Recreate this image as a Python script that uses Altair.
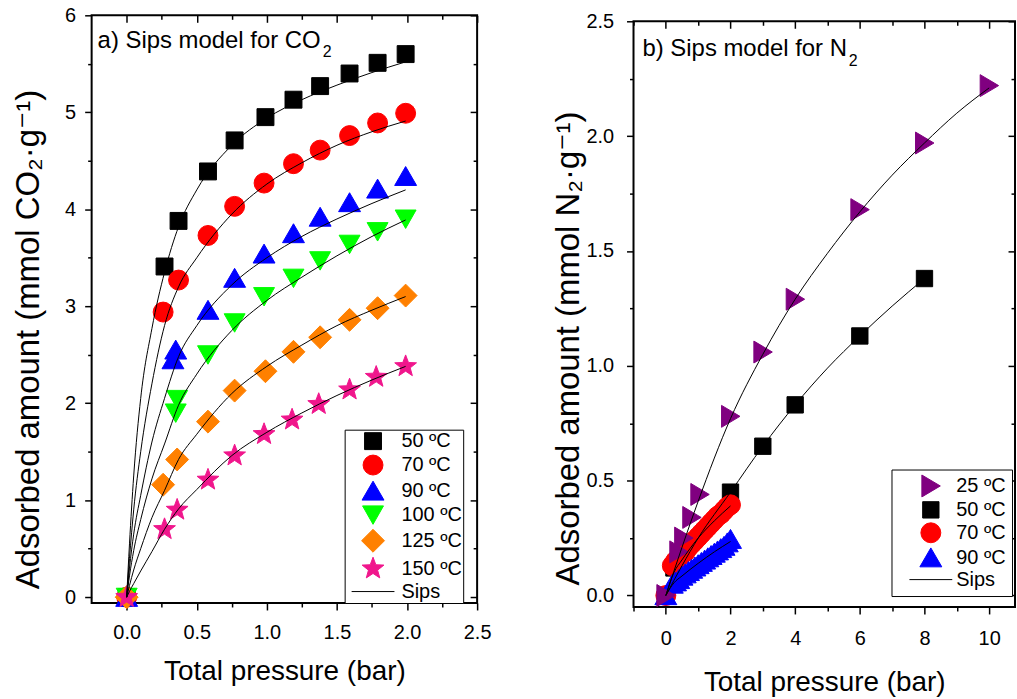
import altair as alt
import pandas as pd

FONT = "Liberation Sans, Arial, DejaVu Sans"

# marker outlines (unit paths, scaled by the mark size)
SQUARE_A = "M-0.85,-0.85L0.85,-0.85L0.85,0.85L-0.85,0.85Z"
TRI_UP_A = "M0,-0.98L1.1,0.92L-1.1,0.92Z"
TRI_DN_A = "M0,0.95L1.05,-0.9L-1.05,-0.9Z"
DIAMOND_A = "M0,-1.15L1.15,0L0,1.15L-1.15,0Z"
STAR_A = ("M0,-1.15L0.284,-0.391L1.094,-0.355L0.459,0.15L0.676,0.93L0,0.483"
          "L-0.676,0.93L-0.459,0.15L-1.094,-0.355L-0.284,-0.391Z")
SIPS_LINE = "M-2.15,0L2.15,0"
SQUARE_B = "M-0.82,-0.82L0.82,-0.82L0.82,0.82L-0.82,0.82Z"
TRI_RT_B = "M0.95,0L-0.9,-1.1L-0.9,1.1Z"
TRI_UP_B = "M0,-0.98L1.1,0.92L-1.1,0.92Z"

# ---------------- Panel a: CO2 ----------------
co2_series = ["50 ºC", "70 ºC", "90 ºC", "100 ºC", "125 ºC", "150 ºC"]
co2_colors = ["#000000", "#ff0000", "#0000ff", "#00ff00", "#ff8000", "#f0168c"]
co2_shapes = [SQUARE_A, "circle", TRI_UP_A, TRI_DN_A, DIAMOND_A, STAR_A]

p_co2_50 = [0, 0.27, 0.37, 0.58, 0.77, 0.99, 1.19, 1.38, 1.59, 1.79, 1.99]
q_co2_50 = [0, 3.41, 3.88, 4.39, 4.71, 4.95, 5.13, 5.27, 5.40, 5.51, 5.60]
p_co2_70 = [0, 0.26, 0.37, 0.58, 0.77, 0.98, 1.19, 1.38, 1.59, 1.79, 1.99]
q_co2_70 = [0, 2.94, 3.27, 3.73, 4.03, 4.27, 4.47, 4.61, 4.76, 4.89, 4.99]
p_co2_90 = [0, 0.33, 0.35, 0.58, 0.77, 0.98, 1.19, 1.38, 1.59, 1.79, 1.99]
q_co2_90 = [0, 2.45, 2.55, 2.96, 3.29, 3.54, 3.75, 3.92, 4.07, 4.21, 4.34]
p_co2_100 = [0, 0.35, 0.36, 0.58, 0.77, 0.98, 1.19, 1.38, 1.59, 1.79, 1.99]
q_co2_100 = [0, 1.90, 2.04, 2.50, 2.83, 3.10, 3.29, 3.47, 3.64, 3.77, 3.90]
p_co2_125 = [0, 0.26, 0.36, 0.58, 0.77, 0.99, 1.19, 1.38, 1.59, 1.79, 1.99]
q_co2_125 = [0, 1.16, 1.42, 1.81, 2.13, 2.33, 2.53, 2.68, 2.86, 2.98, 3.11]
p_co2_150 = [0, 0.27, 0.36, 0.58, 0.77, 0.98, 1.18, 1.37, 1.59, 1.78, 1.99]
q_co2_150 = [0, 0.70, 0.90, 1.21, 1.46, 1.68, 1.83, 1.99, 2.14, 2.27, 2.38]

# Sips fit curves
p_fit_co2 = [0, 0.02, 0.05, 0.1, 0.18, 0.27, 0.37, 0.5, 0.75, 1.0, 1.25, 1.5, 1.75, 1.99]
q_fit_co2_50 = [0, 0.55, 1.25, 2.05, 2.77, 3.35, 3.82, 4.20, 4.66, 4.94, 5.13, 5.28, 5.41, 5.52]
q_fit_co2_70 = [0, 0.40, 0.90, 1.50, 2.20, 2.80, 3.20, 3.50, 3.95, 4.26, 4.48, 4.66, 4.80, 4.91]
q_fit_co2_90 = [0, 0.30, 0.65, 1.05, 1.60, 2.05, 2.48, 2.80, 3.22, 3.50, 3.72, 3.90, 4.06, 4.20]
q_fit_co2_100 = [0, 0.22, 0.48, 0.80, 1.22, 1.58, 1.98, 2.30, 2.75, 3.06, 3.30, 3.52, 3.72, 3.89]
q_fit_co2_125 = [0, 0.12, 0.28, 0.50, 0.82, 1.10, 1.42, 1.68, 2.10, 2.38, 2.60, 2.80, 2.96, 3.10]
q_fit_co2_150 = [0, 0.06, 0.14, 0.27, 0.47, 0.70, 0.91, 1.11, 1.46, 1.70, 1.90, 2.08, 2.24, 2.38]

# ---------------- Panel b: N2 ----------------
n2_series = ["25 ºC", "50 ºC", "70 ºC", "90 ºC"]
n2_colors = ["#800080", "#000000", "#ff0000", "#0000ff"]
n2_shapes = [TRI_RT_B, SQUARE_B, "circle", TRI_UP_B]

p_n2_25 = [0, 0.4, 0.55, 0.8, 1.05, 2.0, 3.0, 4.0, 6.0, 8.0, 10.0]
q_n2_25 = [0, 0.19, 0.25, 0.34, 0.44, 0.78, 1.06, 1.29, 1.68, 1.97, 2.22]
p_n2_50 = [0, 0.25, 2.0, 3.0, 4.0, 6.0, 8.0]
q_n2_50 = [0, 0.12, 0.45, 0.65, 0.83, 1.13, 1.38]
p_n2_70 = [0, 0.2, 0.3, 0.4, 0.5, 0.6, 0.7, 0.8, 0.9, 1.0, 1.1, 1.2, 1.3, 1.4, 1.5, 1.6, 1.7, 1.8, 1.9, 2.0]
q_n2_70 = [0, 0.13, 0.15, 0.165, 0.18, 0.19, 0.21, 0.225, 0.24, 0.255, 0.27, 0.285, 0.30, 0.315, 0.33, 0.345, 0.355, 0.37, 0.385, 0.395]
p_n2_90 = [0, 0.2, 0.3, 0.4, 0.5, 0.6, 0.7, 0.8, 0.9, 1.0, 1.1, 1.2, 1.3, 1.4, 1.5, 1.6, 1.7, 1.8, 1.9, 2.0]
q_n2_90 = [0, 0.05, 0.06, 0.07, 0.085, 0.095, 0.105, 0.115, 0.125, 0.135, 0.145, 0.155, 0.165, 0.175, 0.185, 0.195, 0.205, 0.215, 0.23, 0.245]

p_fit_n2_25 = [0, 0.5, 1, 2, 3, 4, 5, 6, 7, 8, 9, 10]
q_fit_n2_25 = [0, 0.21, 0.41, 0.77, 1.05, 1.29, 1.49, 1.67, 1.83, 1.97, 2.10, 2.21]
p_fit_n2_50 = [0, 0.5, 1, 2, 3, 4, 5, 6, 7, 8]
q_fit_n2_50 = [0, 0.13, 0.25, 0.45, 0.65, 0.83, 0.99, 1.13, 1.26, 1.38]
p_fit_n2_70 = [0, 0.25, 0.5, 1.0, 1.5, 2.0]
q_fit_n2_70 = [0, 0.10, 0.155, 0.25, 0.325, 0.39]
p_fit_n2_90 = [0, 0.25, 0.5, 1.0, 1.5, 2.0]
q_fit_n2_90 = [0, 0.055, 0.085, 0.14, 0.19, 0.235]


def long_table(names, ps, qs):
    rows = []
    for name, p, q in zip(names, ps, qs):
        for pi, qi in zip(p, q):
            rows.append({"series": name, "P": pi, "q": qi})
    return pd.DataFrame(rows)


df_a_pts = long_table(co2_series,
                      [p_co2_50, p_co2_70, p_co2_90, p_co2_100, p_co2_125, p_co2_150],
                      [q_co2_50, q_co2_70, q_co2_90, q_co2_100, q_co2_125, q_co2_150])
df_a_fit = long_table(co2_series, [p_fit_co2] * 6,
                      [q_fit_co2_50, q_fit_co2_70, q_fit_co2_90, q_fit_co2_100, q_fit_co2_125, q_fit_co2_150])
# drawing order: 50 first, 25 (purple) last
order_b = [1, 2, 3, 0]
pb = [p_n2_25, p_n2_50, p_n2_70, p_n2_90]
qb = [q_n2_25, q_n2_50, q_n2_70, q_n2_90]
df_b_pts = long_table([n2_series[i] for i in order_b], [pb[i] for i in order_b], [qb[i] for i in order_b])
df_b_fit = long_table(n2_series, [p_fit_n2_25, p_fit_n2_50, p_fit_n2_70, p_fit_n2_90],
                      [q_fit_n2_25, q_fit_n2_50, q_fit_n2_70, q_fit_n2_90])

AXIS_STYLE = dict(labelFont=FONT, labelFontSize=20, labelColor="black", titleFont=FONT,
                  titleFontWeight="normal", titleColor="black",
                  tickColor="black", tickWidth=1.5, domain=False, grid=False,
                  labelOverlap=False, labelFlush=False, labelBound=False)


def major_axis(values, test, fmt, title, orient, label_pad, title_pad, title_size, **kw):
    return alt.Axis(values=values, orient=orient, title=title,
                    labelExpr=f"({test}) ? format(datum.value, '{fmt}') : ''",
                    tickSize={"condition": {"test": test, "value": 7}, "value": 4},
                    labelPadding=label_pad, titlePadding=title_pad, titleFontSize=title_size,
                    **AXIS_STYLE, **kw)


def mirror_axis(values, test, orient, offset):
    return alt.Axis(values=values, orient=orient, title=None, labels=False, offset=offset,
                    tickSize={"condition": {"test": test, "value": 7}, "value": 4},
                    tickColor="black", tickWidth=1.5, domain=False, grid=False)


def legend(x, y, pad, row_pad, sym_off, lab_off):
    return alt.Legend(title=None, orient="none", legendX=x, legendY=y, strokeColor="black",
                      fillColor="white", padding=pad, labelFont=FONT, labelFontSize=20,
                      labelColor="black", labelOffset=lab_off, symbolOffset=sym_off,
                      rowPadding=row_pad, symbolStrokeWidth=1, symbolSize=400, cornerRadius=0)


def panel(df_pts, df_fit, series, colors, shapes, xdom, ydom, xvals, yvals,
          xtest, ytest, xfmt, yfmt, ytitle, W, H, leg, label, txt_xy, sub_xy,
          xlab_pad, xtitle_pad, ylab_pad, ytitle_pad, ytitle_y):
    dom = series + ["Sips"]
    xs = alt.Scale(domain=xdom, nice=False, zero=False)
    ys = alt.Scale(domain=ydom, nice=False, zero=False)
    pts = alt.Chart(df_pts).mark_point(filled=True, opacity=1, strokeWidth=1, size=400).encode(
        x=alt.X("P:Q", scale=xs, axis=major_axis(xvals, xtest, xfmt, "Total pressure (bar)",
                                                 "bottom", xlab_pad, xtitle_pad, 28)),
        y=alt.Y("q:Q", scale=ys, axis=major_axis(yvals, ytest, yfmt, ytitle, "left",
                                                 ylab_pad, ytitle_pad, 33, titleY=ytitle_y)),
        fill=alt.Fill("series:N", scale=alt.Scale(domain=dom, range=colors + ["#000000"]), legend=leg),
        stroke=alt.Stroke("series:N", scale=alt.Scale(domain=dom, range=colors + ["#000000"]), legend=leg),
        shape=alt.Shape("series:N", scale=alt.Scale(domain=dom, range=shapes + [SIPS_LINE]), legend=leg),
    )
    fits = alt.Chart(df_fit).mark_line(color="black", strokeWidth=1, interpolate="monotone").encode(
        x=alt.X("P:Q", scale=xs, axis=mirror_axis(xvals, xtest, "bottom", -H)),
        y=alt.Y("q:Q", scale=ys, axis=mirror_axis(yvals, ytest, "left", -W)),
        detail="series:N",
    )
    txt = alt.Chart(pd.DataFrame({"t": [label]})).mark_text(
        align="left", baseline="alphabetic", font=FONT, fontSize=24, color="black"
    ).encode(x=alt.value(txt_xy[0]), y=alt.value(txt_xy[1]), text="t:N")
    sub = alt.Chart(pd.DataFrame({"t": ["2"]})).mark_text(
        align="left", baseline="alphabetic", font=FONT, fontSize=16, color="black"
    ).encode(x=alt.value(sub_xy[0]), y=alt.value(sub_xy[1]), text="t:N")
    return alt.layer(pts, fits, txt, sub).resolve_axis(x="independent", y="independent").properties(
        width=W, height=H)


def spacer():
    # empty 1-px strip that sets the vertical start of a panel
    return alt.Chart(pd.DataFrame({"z": [0]})).mark_point(size=0, opacity=0).encode(
        x=alt.value(0), y=alt.value(0)
    ).properties(width=1, height=1, view=alt.ViewBackground(stroke="transparent", strokeWidth=0))


xa_vals = [0, 0.25, 0.5, 0.75, 1.0, 1.25, 1.5, 1.75, 2.0, 2.25, 2.5]
ya_vals = [0, 0.5, 1, 1.5, 2, 2.5, 3, 3.5, 4, 4.5, 5, 5.5, 6]
xb_vals = [-1, 0, 1, 2, 3, 4, 5, 6, 7, 8, 9, 10]
yb_vals = [0, 0.25, 0.5, 0.75, 1.0, 1.25, 1.5, 1.75, 2.0, 2.25, 2.5]

# legend positions are measured from the top of each column (spacer top)
A = panel(df_a_pts, df_a_fit, co2_series, co2_colors, co2_shapes,
          [-0.25, 2.5], [-0.06, 6], xa_vals, ya_vals,
          "abs(datum.value*2 - round(datum.value*2)) < 0.001",
          "abs(datum.value - round(datum.value)) < 0.001", ".1f", ".0f",
          "Adsorbed amount (mmol CO₂·g⁻¹)", 387, 590, legend(254, 428, 1, 1, 17, 18),
          "a) Sips model for CO", (6, 33), (232, 42),
          xlab_pad=13, xtitle_pad=15, ylab_pad=9, ytitle_pad=19, ytitle_y=325)

B = panel(df_b_pts, df_b_fit, n2_series, n2_colors, n2_shapes,
          [-1, 10.8], [-0.05, 2.5], xb_vals, yb_vals,
          "abs(datum.value/2 - round(datum.value/2)) < 0.001",
          "abs(datum.value*2 - round(datum.value*2)) < 0.001", ".0f", ".1f",
          "Adsorbed amount (mmol N₂·g⁻¹)", 383, 588, legend(259, 468, 6, 0, 23, 15),
          "b) Sips model for N", (9, 35), (216, 45),
          xlab_pad=15, xtitle_pad=20, ylab_pad=13, ytitle_pad=0, ytitle_y=328)

cell_a = alt.vconcat(spacer(), A, spacing=0)
cell_b = alt.vconcat(spacer(), B, spacing=6)

chart = alt.hconcat(cell_a, cell_b, spacing=60).resolve_scale(
    fill="independent", stroke="independent", shape="independent"
).properties(
    padding={"left": 11, "top": 2, "right": 0, "bottom": 0}, background="white"
).configure_view(stroke="black", strokeWidth=2)

chart.save("out.html", embed_options={"renderer": "svg", "actions": False})
